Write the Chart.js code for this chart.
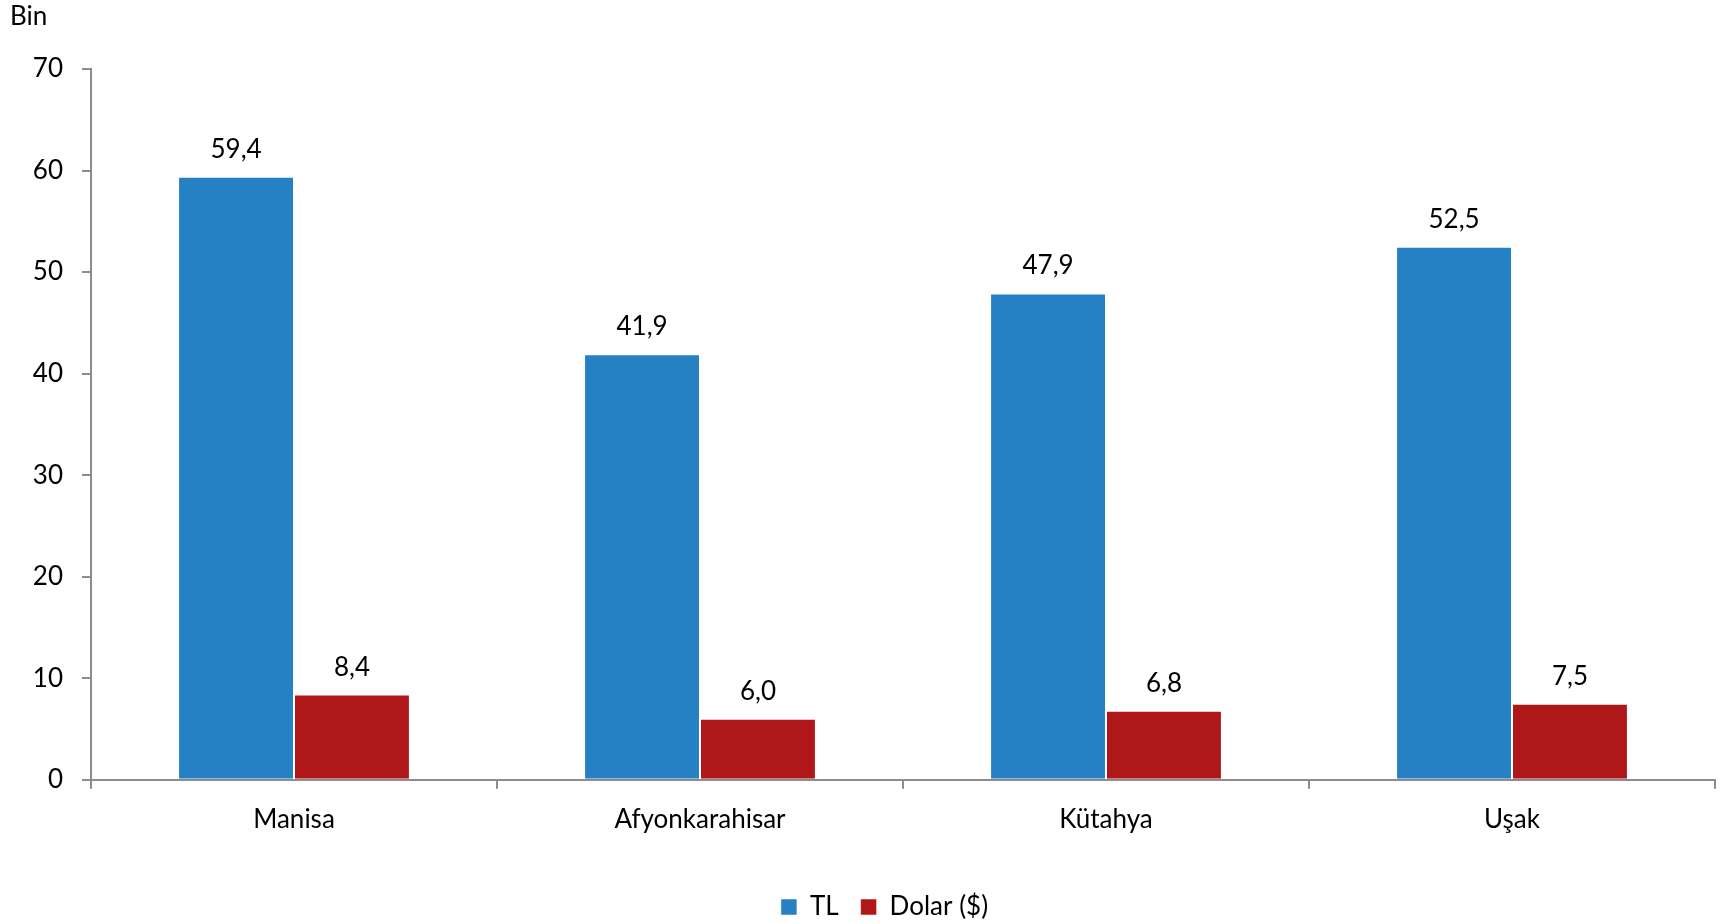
<!DOCTYPE html>
<html>
<head>
<meta charset="utf-8">
<script src="https://cdn.jsdelivr.net/npm/chart.js@4.4.1/dist/chart.umd.min.js"></script>
<style>
  html, body { margin: 0; padding: 0; background: #fff; }
  #wrap { width: 1723px; height: 924px; position: relative; }
</style>
</head>
<body>
<div id="wrap"><canvas id="chart"></canvas></div>
<script>
const iller = ['Manisa', 'Afyonkarahisar', 'Kütahya', 'Uşak'];
const tlDegerleri = [59.4, 41.9, 47.9, 52.5];
const dolarDegerleri = [8.4, 6.0, 6.8, 7.5];
const seriAdlari = ['TL', 'Dolar ($)'];
const birim = 'Bin';

const yaziTipi = 'Lato, "Open Sans", sans-serif';
Chart.defaults.font.family = yaziTipi;
Chart.defaults.font.size = 26;
Chart.defaults.color = '#000';

const virgullu = v => v.toFixed(1).replace('.', ',');

// values above bars + unit label in the corner
const etiketler = {
    id: 'etiketler',
    afterLayout(chart) {
        // legend sits a bit right of centre
        chart.legend.left += 27;
        chart.legend.right += 27;
    },
    afterDatasetsDraw(chart) {
        const ctx = chart.ctx;
        ctx.save();
        ctx.font = '26px ' + yaziTipi;
        ctx.fillStyle = '#000';
        ctx.textAlign = 'center';
        ctx.textBaseline = 'alphabetic';
        chart.data.datasets.forEach((ds, i) => {
            chart.getDatasetMeta(i).data.forEach((bar, j) => {
                ctx.fillText(virgullu(ds.data[j]), bar.x, bar.y - 19);
            });
        });
        ctx.textAlign = 'left';
        ctx.fillText(birim, 10, 25);
        ctx.restore();
    }
};

new Chart(document.getElementById('chart'), {
    type: 'bar',
    data: {
        labels: iller,
        datasets: [{
            label: seriAdlari[0],
            data: tlDegerleri,
            backgroundColor: '#2580c4',
            borderColor: 'rgba(255,255,255,0.5)',
            borderWidth: 1
        }, {
            label: seriAdlari[1],
            data: dolarDegerleri,
            backgroundColor: '#b01718',
            borderColor: 'rgba(255,255,255,0.5)',
            borderWidth: 1
        }]
    },
    options: {
        responsive: true,
        maintainAspectRatio: false,
        animation: false,
        categoryPercentage: 0.571,
        barPercentage: 1.0,
        layout: { padding: { top: 69, right: 8, bottom: -6, left: 0 } },
        scales: {
            x: {
                afterFit(scale) { scale.height += 22; },
                grid: { offset: true, drawOnChartArea: false, tickLength: 9, color: '#8c8c8c', lineWidth: 2 },
                border: { color: '#8c8c8c', width: 2 },
                ticks: { padding: 15, font: { size: 26 } }
            },
            y: {
                min: 0,
                max: 70,
                afterFit(scale) { scale.width = 91; },
                ticks: { stepSize: 10, padding: 19, font: { size: 26 } },
                grid: { drawOnChartArea: false, tickLength: 9, color: '#8c8c8c', lineWidth: 2 },
                border: { color: '#8c8c8c', width: 2 }
            }
        },
        plugins: {
            legend: {
                position: 'bottom',
                labels: { boxWidth: 16, boxHeight: 16, padding: 22, font: { size: 26 } }
            },
            tooltip: { enabled: false }
        }
    },
    plugins: [etiketler]
});
</script>
</body>
</html>
